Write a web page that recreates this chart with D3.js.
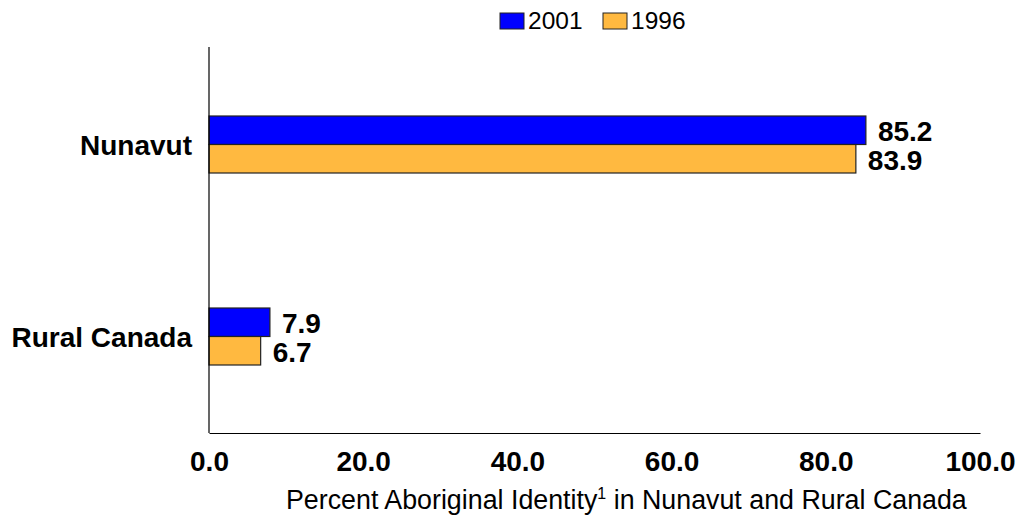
<!DOCTYPE html>
<html>
<head>
<meta charset="utf-8">
<script src="https://cdn.jsdelivr.net/npm/d3@7"></script>
<style>
  body { margin: 0; background: #fff; }
  text { font-family: "Liberation Sans", Arial, sans-serif; }
</style>
</head>
<body>
<div id="chart"></div>
<script>
const categories = ['Nunavut', 'Rural Canada'];
const years = ['2001', '1996'];
const values2001 = [85.2, 7.9];
const values1996 = [83.9, 6.7];
const tickValues = [0, 20, 40, 60, 80, 100];

const colors = { '2001': '#0000ff', '1996': '#ffb940' };

const width = 1019, height = 521;
const margin = { top: 47, left: 209, right: 39, bottom: 88 };

const svg = d3.select('#chart').append('svg')
  .attr('width', width)
  .attr('height', height);

const x = d3.scaleLinear()
  .domain([0, 100])
  .range([margin.left, width - margin.right]);

const y = d3.scaleBand()
  .domain(categories)
  .range([49, height - margin.bottom]);

const inner = d3.scaleBand()
  .domain(years)
  .range([0, 57]);

const rows = categories.map((c, i) => ({
  cat: c,
  vals: [{ year: '2001', v: values2001[i] }, { year: '1996', v: values1996[i] }]
}));

const groups = svg.append('g').selectAll('g')
  .data(rows)
  .enter()
  .append('g')
  .attr('transform', d => 'translate(0,' + (y(d.cat) + y.bandwidth() / 2 - 29) + ')');

groups.selectAll('rect')
  .data(d => d.vals)
  .enter()
  .append('rect')
  .attr('x', x(0))
  .attr('y', d => inner(d.year))
  .attr('width', d => x(d.v) - x(0))
  .attr('height', inner.bandwidth())
  .attr('fill', d => colors[d.year])
  .attr('stroke', '#222')
  .attr('stroke-width', 1.2);

groups.selectAll('text.val')
  .data(d => d.vals)
  .enter()
  .append('text')
  .attr('class', 'val')
  .attr('x', d => x(d.v) + 12)
  .attr('y', d => inner(d.year) + inner.bandwidth() / 2 + 1)
  .attr('dy', '0.35em')
  .style('font-size', '28px')
  .style('font-weight', 'bold')
  .text(d => d.v.toFixed(1));

// vertical axis line
svg.append('line')
  .attr('x1', x(0)).attr('x2', x(0))
  .attr('y1', margin.top).attr('y2', height - margin.bottom)
  .attr('stroke', '#000').attr('stroke-width', 1.2);

const xAxis = d3.axisBottom(x)
  .tickValues(tickValues)
  .tickSize(0)
  .tickPadding(18)
  .tickFormat(d3.format('.1f'));

const gx = svg.append('g')
  .attr('transform', 'translate(0,' + (height - margin.bottom) + ')')
  .call(xAxis);
gx.select('.domain').attr('stroke', '#000').attr('stroke-width', 1.2);
gx.selectAll('text')
  .style('font-size', '28px')
  .style('font-weight', 'bold')
  .style('font-family', '"Liberation Sans", Arial, sans-serif')
  .attr('fill', '#000');

// category labels
svg.append('g').selectAll('text')
  .data(categories)
  .enter()
  .append('text')
  .attr('x', 192)
  .attr('y', d => y(d) + y.bandwidth() / 2)
  .attr('dy', '0.35em')
  .attr('text-anchor', 'end')
  .style('font-size', '28px')
  .style('font-weight', 'bold')
  .text(d => d);

// axis title
const title = svg.append('text')
  .attr('x', 286)
  .attr('y', 509)
  .style('font-size', '26.8px');
title.append('tspan').text('Percent Aboriginal Identity');
title.append('tspan').attr('dy', -10).style('font-size', '16px').text('1');
title.append('tspan').attr('dy', 10).text(' in Nunavut and Rural Canada');

// legend
const legendX = [500, 603];
const legend = svg.append('g').selectAll('g')
  .data(years)
  .enter()
  .append('g')
  .attr('transform', (d, i) => 'translate(' + legendX[i] + ',13)');
legend.append('rect')
  .attr('width', 24).attr('height', 16)
  .attr('fill', d => colors[d])
  .attr('stroke', '#222').attr('stroke-width', 1);
legend.append('text')
  .attr('x', 28).attr('y', 16)
  .style('font-size', '24.5px')
  .text(d => d);
</script>
</body>
</html>
